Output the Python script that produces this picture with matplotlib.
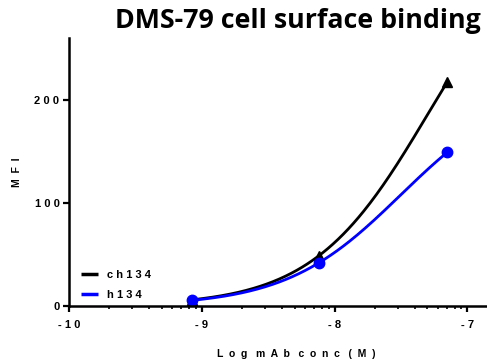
import numpy as np
import matplotlib
matplotlib.use("Agg")
import matplotlib.pyplot as plt
from matplotlib.ticker import FixedLocator

# Log concentration (M) and mean fluorescence intensity
log_conc = [-9.075, -8.118, -7.153]
ch134 = [6, 49, 217]
h134 = [6, 42, 149]

series = [
    ("c h 1 3 4", ch134, "black", "^"),
    ("h 1 3 4", h134, "#0000ff", "o"),
]


def one_site_fit(lx, y):
    """Least-squares one-site binding fit, Y = Bmax*X/(Kd+X)."""
    x = 10.0 ** np.asarray(lx)
    y = np.asarray(y, float)
    best = None
    for lkd in np.linspace(-10, -5, 2001):
        f = x / (10.0 ** lkd + x)
        bmax = (f @ y) / (f @ f)
        err = np.sum((bmax * f - y) ** 2)
        if best is None or err < best[0]:
            best = (err, bmax, lkd)
    return best[1], best[2]


fig = plt.figure(figsize=(4.87, 3.61), dpi=100)
ax = fig.add_axes([0.142, 0.152, 0.856, 0.743])

for label, vals, color, marker in series:
    bmax, lkd = one_site_fit(log_conc, vals)
    xs = np.linspace(log_conc[0], log_conc[-1], 200)
    ys = bmax / (1 + 10.0 ** (lkd - xs))
    ax.plot(xs, ys, color=color, lw=2, label=label, solid_capstyle="butt")
    ax.plot(log_conc, vals, linestyle="none", marker=marker, color=color,
            markersize=7.5, clip_on=False)

ax.set_xlim(-10, -6.86)
ax.set_ylim(0, 260)

for s in ["top", "right"]:
    ax.spines[s].set_visible(False)
for s in ["left", "bottom"]:
    ax.spines[s].set_linewidth(1.8)

ax.set_xticks([-10, -9, -8, -7])
ax.set_xticklabels(["- 1 0", "- 9", "- 8", "- 7"])
minor = []
for d in (-10, -9, -8, -7):
    for m in range(2, 10):
        v = d + np.log10(m)
        if v < -6.86:
            minor.append(v)
ax.xaxis.set_minor_locator(FixedLocator(minor))
ax.set_yticks([0, 100, 200])
ax.set_yticklabels(["0", "1 0 0", "2 0 0"])

ax.tick_params(axis="both", which="major", length=4, width=1.6,
               labelsize=8, pad=3)
ax.tick_params(axis="x", which="major", pad=6)
ax.tick_params(axis="x", which="minor", length=2.5, width=1.2)
for t in ax.get_xticklabels() + ax.get_yticklabels():
    t.set_fontweight("bold")
    t.set_family("Liberation Sans")

ax.set_xlabel("L  o  g   m  A  b   c  o  n  c   (  M  )", fontsize=7.5,
              fontweight="bold", family="Liberation Sans")
ax.xaxis.set_label_coords(0.545, -0.16)
ax.set_ylabel("M  F  I", fontsize=7.5, fontweight="bold",
              family="Liberation Sans", labelpad=9)

leg = ax.legend(loc="lower left", bbox_to_anchor=(0.005, -0.015),
                frameon=False, handlelength=1.5, handletextpad=0.8,
                labelspacing=0.9,
                prop={"family": "Liberation Sans", "weight": "bold",
                      "size": 8})
for h in leg.legend_handles:
    h.set_linewidth(2.5)

fig.text(0.987, 0.942, "DMS-79 cell surface binding", ha="right",
         va="center", fontsize=19.3, fontweight="bold", family="Open Sans")

fig.savefig("out.png", dpi=100)
